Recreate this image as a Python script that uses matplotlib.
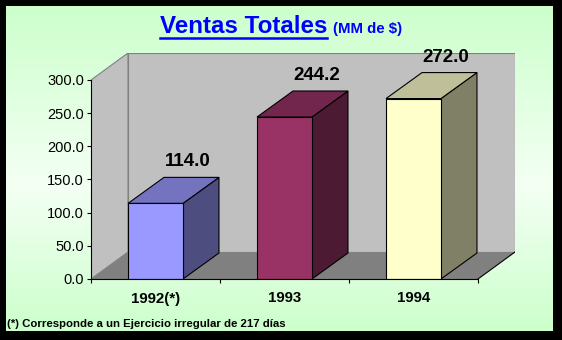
import numpy as np
import matplotlib
matplotlib.use("Agg")
import matplotlib.pyplot as plt
from matplotlib.patches import Polygon
from matplotlib.lines import Line2D
from matplotlib.colors import to_rgb

# data
years = ["1992(*)", "1993", "1994"]
sales = [114.0, 244.2, 272.0]
bar_colors = ["#9999FF", "#993366", "#FFFFCC"]
y_ticks = [0, 50, 100, 150, 200, 250, 300]

plt.rcParams['font.family'] = ['Liberation Sans', 'DejaVu Sans']

W, H = 562, 340
fig = plt.figure(figsize=(W / 100, H / 100), dpi=100, facecolor="black")

# green background with lighter band in the middle
bg = fig.add_axes([6 / W, 9 / H, 547 / W, 325 / H], zorder=-1)
rows = np.linspace(0, 1, 200)
green = np.array([204, 255, 204]) / 255
light = np.array([244, 255, 244]) / 255
k = np.interp(rows, [0, 0.55, 1], [0, 1, 0])
grad = green[None, :] * (1 - k[:, None]) + light[None, :] * k[:, None]
bg.imshow(grad[:, None, :], aspect="auto", extent=[0, 1, 0, 1])
bg.set_axis_off()

# 3D-ish plot area
DX, DY = 37 / 129, 40.7          # wall depth in data units
BDX, BDY = 36 / 129, 39.2        # bar depth
bw = 0.426
ymax = 300

ax = fig.add_axes([91 / W, 1 - 279 / H, 424 / W, 226 / H])
ax.set_facecolor("none")
ax.set_xlim(-0.5, 2.5 + DX)
ax.set_ylim(0, ymax + DY)

n = len(years)
x0, x1 = -0.5, n - 0.5
wall_edge = "#808080"
# back wall
ax.add_patch(Polygon([(x0 + DX, DY), (x1 + DX, DY), (x1 + DX, ymax + DY), (x0 + DX, ymax + DY)],
                     closed=True, facecolor="#C0C0C0", edgecolor=wall_edge, lw=0.8, zorder=1))
# side wall
ax.add_patch(Polygon([(x0, 0), (x0 + DX, DY), (x0 + DX, ymax + DY), (x0, ymax)],
                     closed=True, facecolor="#C0C0C0", edgecolor=wall_edge, lw=0.8, zorder=1))
# floor
ax.add_patch(Polygon([(x0, 0), (x1, 0), (x1 + DX, DY), (x0 + DX, DY)],
                     closed=True, facecolor="#808080", edgecolor="none", zorder=2))
ax.plot([x1, x1 + DX], [0, DY], color="black", lw=0.8, zorder=2)


def shade(c, f):
    r, g, b = to_rgb(c)
    return (r * f, g * f, b * f)


for i, (v, c) in enumerate(zip(sales, bar_colors)):
    l, r = i - bw / 2, i + bw / 2
    side = [(r, 0), (r + BDX, BDY), (r + BDX, v + BDY), (r, v)]
    top = [(l, v), (r, v), (r + BDX, v + BDY), (l + BDX, v + BDY)]
    front = [(l, 0), (r, 0), (r, v), (l, v)]
    ax.add_patch(Polygon(side, closed=True, facecolor=shade(c, 0.5), edgecolor="black", lw=0.8, zorder=3))
    ax.add_patch(Polygon(top, closed=True, facecolor=shade(c, 0.75), edgecolor="black", lw=0.8, zorder=3))
    ax.add_patch(Polygon(front, closed=True, facecolor=c, edgecolor="black", lw=0.8, zorder=4))
    ax.annotate(f"{v:.1f}", xy=(i + BDX * 0.9, v + BDY), xytext=(0, 5), textcoords="offset points",
                ha="center", va="bottom", fontsize=13.5, fontweight="bold", color="black")

for s in ["top", "right"]:
    ax.spines[s].set_visible(False)
ax.spines["left"].set_bounds(0, ymax)
ax.spines["bottom"].set_bounds(x0, x1)
for s in ["left", "bottom"]:
    ax.spines[s].set_linewidth(0.8)
    ax.spines[s].set_zorder(5)

ax.set_yticks(y_ticks)
ax.set_yticklabels([f"{t:.1f}" for t in y_ticks])
ax.tick_params(axis="y", direction="out", length=3, width=0.8, labelsize=10.5, pad=2)
ax.set_xticks(np.arange(n + 1) - 0.5)
ax.set_xticklabels([])
ax.tick_params(axis="x", which="major", direction="out", length=3, width=0.8)
ax.set_xticks(np.arange(n), minor=True)
ax.set_xticklabels(years, minor=True, fontsize=10.8, fontweight="bold")
ax.tick_params(axis="x", which="minor", length=0, pad=9)

# title
t1 = fig.text(160 / W, 1 - 33 / H, "Ventas Totales", color="#0000FF", fontsize=17.4,
              fontweight="bold", ha="left", va="baseline")
fig.canvas.draw()
bb = t1.get_window_extent(fig.canvas.get_renderer())
fig.text((bb.x1 + 6) / W, 1 - 33 / H, "(MM de $)", color="#0000FF", fontsize=10.8,
         fontweight="bold", ha="left", va="baseline")
fig.add_artist(Line2D([bb.x0 / W, bb.x1 / W], [1 - 38 / H, 1 - 38 / H], color="#0000FF", lw=1.8))

fig.text(7 / W, 1 - 327 / H, "(*) Corresponde a un Ejercicio irregular de 217 días", fontsize=8.2,
         fontweight="bold", ha="left", va="baseline", color="black")

fig.savefig("out.png", dpi=100, facecolor="black")
